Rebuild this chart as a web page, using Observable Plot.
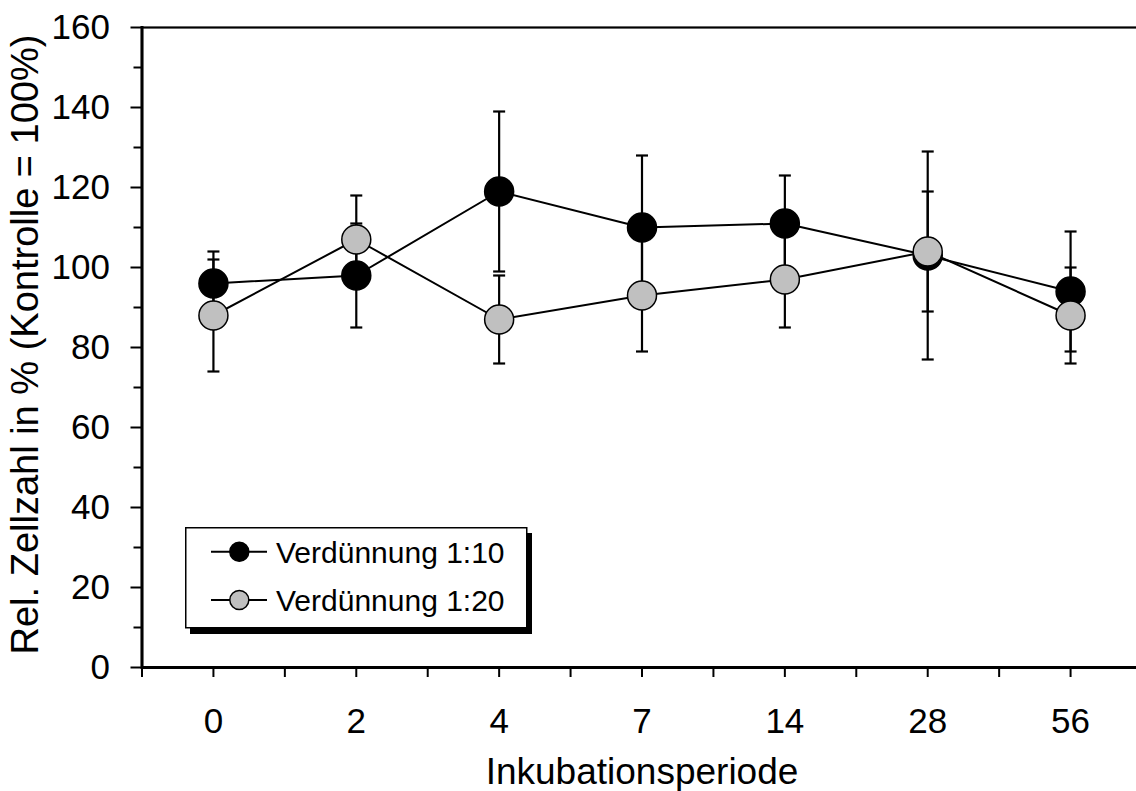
<!DOCTYPE html>
<html><head><meta charset="utf-8">
<script src="https://cdn.jsdelivr.net/npm/d3@7"></script>
<script src="https://cdn.jsdelivr.net/npm/@observablehq/plot@0.6"></script>
<style>
body{margin:0;background:#fff;}
#wrap{position:relative;width:1136px;height:791px;overflow:hidden;background:#fff;}
#legend{position:absolute;left:180px;top:522px;}
</style></head><body><div id="wrap"></div>
<script>
// ---- data ----
const days = ["0", "2", "4", "7", "14", "28", "56"];
const seriesNames = ["Verdünnung 1:10", "Verdünnung 1:20"];
const mean10 = [96, 98, 119, 110, 111, 103, 94];
const err10  = [8, 13, 20, 18, 12, 26, 15];
const mean20 = [88, 107, 87, 93, 97, 104, 88];
const err20  = [14, 11, 11, 14, 12, 15, 12];
const yTicks = [0, 20, 40, 60, 80, 100, 120, 140, 160];
const yMinorTicks = [10, 30, 50, 70, 90, 110, 130, 150];
const seriesFill = ["#000000", "#c0c0c0"];
const xTitle = "Inkubationsperiode";
const yTitle = "Rel. Zellzahl in % (Kontrolle = 100%)";

const rows = (means, errs) => means.map((m, i) => ({i, day: days[i], mean: m, lo: m - errs[i], hi: m + errs[i]}));
const d10 = rows(mean10, err10);
const d20 = rows(mean20, err20);

// tick positions: category centres and the boundaries between them
const xCenters = days.map((d, i) => i);
const xAllTicks = d3.range(-0.5, days.length, 0.5);

const cap = {draw(ctx, size) { const r = Math.sqrt(size / Math.PI); ctx.moveTo(-r, 0); ctx.lineTo(r, 0); }};

function seriesMarks(data, fill) {
  return [
    Plot.ruleX(data, {x: "i", y1: "lo", y2: "hi", stroke: "black", strokeWidth: 2.2}),
    Plot.dot(data, {x: "i", y: "lo", symbol: cap, r: 6, fill: "none", stroke: "black", strokeWidth: 2.2}),
    Plot.dot(data, {x: "i", y: "hi", symbol: cap, r: 6, fill: "none", stroke: "black", strokeWidth: 2.2}),
    Plot.line(data, {x: "i", y: "mean", stroke: "black", strokeWidth: 2}),
    Plot.dot(data, {x: "i", y: "mean", r: 14.5, fill, stroke: "black", strokeWidth: 1.5})
  ];
}

const chart = Plot.plot({
  width: 1136,
  height: 791,
  marginLeft: 141.5,
  marginRight: -5.5,
  marginTop: 27,
  marginBottom: 124,
  style: {fontFamily: "'Liberation Sans', Arial, sans-serif", background: "white", color: "black"},
  x: {type: "linear", domain: [-0.5, days.length - 0.5]},
  y: {domain: [0, 160]},
  marks: [
    Plot.frame({stroke: "black", strokeWidth: 2.2}),
    Plot.frame({anchor: "left", stroke: "black", strokeWidth: 3}),
    Plot.ruleY([0], {stroke: "black", strokeWidth: 3}),
    Plot.axisY(yTicks, {tickSize: 11, tickPadding: 21, fontSize: 35, strokeWidth: 2, label: null}),
    Plot.axisY(yMinorTicks, {tickSize: 8, strokeWidth: 2, tickFormat: () => "", label: null}),
    Plot.axisX(xAllTicks, {tickSize: 10, strokeWidth: 2, tickFormat: () => "", label: null}),
    Plot.axisX(xCenters, {tickSize: 0, tickPadding: 41, tickFormat: i => days[i], fontSize: 35, label: null}),
    Plot.text([xTitle], {text: d => d, frameAnchor: "bottom", dy: 116, lineAnchor: "bottom", fontSize: 37}),
    Plot.text([yTitle], {text: d => d, frameAnchor: "left", rotate: -90, dx: -104, dy: -3, lineAnchor: "bottom", textAnchor: "middle", fontSize: 38}),
    ...seriesMarks(d10, seriesFill[0]),
    ...seriesMarks(d20, seriesFill[1])
  ]
});
document.getElementById("wrap").appendChild(chart);

// ---- legend (inside plot area, as in the reference) ----
const lg = d3.select("#wrap").append("svg").attr("id", "legend").attr("width", 360).attr("height", 120)
  .style("font-family", "'Liberation Sans', Arial, sans-serif");
lg.append("rect").attr("x", 10).attr("y", 11).attr("width", 342).attr("height", 101).attr("fill", "black");
lg.append("rect").attr("x", 5.75).attr("y", 5.75).attr("width", 341).attr("height", 100)
  .attr("fill", "white").attr("stroke", "black").attr("stroke-width", 1.5);
seriesNames.forEach((name, k) => {
  const cy = 29.7 + k * 48.3;
  lg.append("line").attr("x1", 31).attr("x2", 87).attr("y1", cy).attr("y2", cy).attr("stroke", "black").attr("stroke-width", 2);
  lg.append("circle").attr("cx", 59.3).attr("cy", cy).attr("r", 9.5).attr("fill", seriesFill[k]).attr("stroke", "black").attr("stroke-width", 1.5);
  lg.append("text").attr("x", 96).attr("y", cy + 11.3).attr("font-size", 30).attr("fill", "black").text(name);
});
</script></body></html>
